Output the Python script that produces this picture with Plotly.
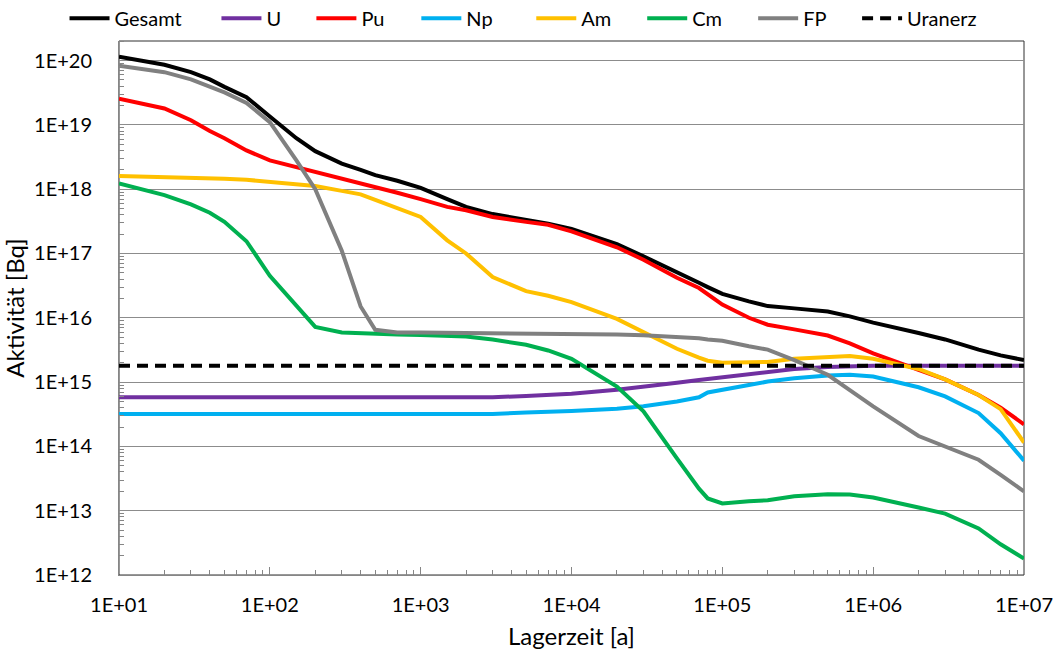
import plotly.graph_objects as go

# Lagerzeit [a]
years = [10, 20, 30, 40, 50, 70, 100, 150, 200, 300, 400, 500, 700,
         1e3, 1.5e3, 2e3, 3e3, 5e3, 7e3, 1e4, 2e4, 3e4, 5e4, 7e4, 8e4,
         1e5, 1.5e5, 2e5, 3e5, 5e5, 7e5, 1e6, 2e6, 3e6, 5e6, 7e6, 1e7]

gesamt = [1.15e20, 8.6e19, 6.6e19, 5.1e19, 3.9e19, 2.7e19, 1.35e19, 6.2e18, 3.9e18, 2.5e18, 2.0e18, 1.65e18, 1.35e18,
          1.05e18, 7.0e17, 5.3e17, 4.1e17, 3.3e17, 2.9e17, 2.4e17, 1.4e17, 9.0e16, 5.2e16, 3.5e16, 3.0e16,
          2.35e16, 1.8e16, 1.52e16, 1.4e16, 1.25e16, 1.05e16, 8.4e15, 5.8e15, 4.6e15, 3.2e15, 2.6e15, 2.2e15]

uran = [5.8e14, 5.8e14, 5.8e14, 5.8e14, 5.8e14, 5.8e14, 5.8e14, 5.8e14, 5.8e14, 5.8e14, 5.8e14, 5.8e14, 5.8e14,
        5.8e14, 5.8e14, 5.8e14, 5.8e14, 6.1e14, 6.3e14, 6.6e14, 7.6e14, 8.4e14, 9.8e14, 1.08e15, 1.12e15,
        1.2e15, 1.35e15, 1.45e15, 1.6e15, 1.72e15, 1.78e15, 1.79e15, 1.79e15, 1.79e15, 1.79e15, 1.79e15, 1.79e15]

plutonium = [2.55e19, 1.8e19, 1.18e19, 8.0e18, 6.2e18, 4.0e18, 2.8e18, 2.2e18, 1.85e18, 1.45e18, 1.25e18, 1.1e18, 8.8e17,
             7.0e17, 5.3e17, 4.7e17, 3.7e17, 3.1e17, 2.8e17, 2.2e17, 1.25e17, 8.0e16, 4.2e16, 2.9e16, 2.3e16,
             1.6e16, 1.0e16, 7.8e15, 6.6e15, 5.3e15, 4.0e15, 2.8e15, 1.55e15, 1.1e15, 6.3e14, 4.0e14, 2.2e14]

neptunium = [3.2e14, 3.2e14, 3.2e14, 3.2e14, 3.2e14, 3.2e14, 3.2e14, 3.2e14, 3.2e14, 3.2e14, 3.2e14, 3.2e14, 3.2e14,
             3.2e14, 3.2e14, 3.2e14, 3.2e14, 3.35e14, 3.4e14, 3.55e14, 3.85e14, 4.2e14, 5.0e14, 5.8e14, 6.9e14,
             7.5e14, 9.0e14, 1.02e15, 1.15e15, 1.27e15, 1.3e15, 1.22e15, 8.3e14, 6.0e14, 3.3e14, 1.6e14, 6.0e13]

americium = [1.6e18, 1.55e18, 1.52e18, 1.5e18, 1.45e18, 1.4e18, 1.3e18, 1.2e18, 1.12e18, 9.4e17, 8.3e17, 6.8e17, 5.0e17,
             3.7e17, 1.6e17, 1.0e17, 4.3e16, 2.6e16, 2.2e16, 1.75e16, 9.6e15, 6.0e15, 3.3e15, 2.4e15, 2.15e15,
             2.0e15, 2.0e15, 2.05e15, 2.3e15, 2.5e15, 2.55e15, 2.3e15, 1.6e15, 1.1e15, 6.3e14, 3.8e14, 1.15e14]

curium = [1.23e18, 8.1e17, 5.8e17, 4.3e17, 3.1e17, 1.55e17, 4.5e16, 1.5e16, 7.2e15, 5.9e15, 5.7e15, 5.6e15, 5.5e15,
          5.4e15, 5.2e15, 5.1e15, 4.6e15, 3.8e15, 3.1e15, 2.3e15, 8.5e14, 3.5e14, 6.5e13, 2.2e13, 1.55e13,
          1.3e13, 1.4e13, 1.45e13, 1.68e13, 1.8e13, 1.78e13, 1.6e13, 1.12e13, 9.0e12, 5.3e12, 3.0e12, 1.8e12]

spaltprodukte = [8.3e19, 6.6e19, 5.1e19, 4.0e19, 3.2e19, 2.2e19, 1.1e19, 2.8e18, 1.0e18, 1.1e17, 1.5e16, 6.5e15, 5.9e15,
                 5.9e15, 5.85e15, 5.8e15, 5.8e15, 5.75e15, 5.75e15, 5.7e15, 5.5e15, 5.35e15, 5.1e15, 4.8e15, 4.6e15,
                 4.4e15, 3.6e15, 3.2e15, 2.2e15, 1.3e15, 7.5e14, 4.2e14, 1.45e14, 1.0e14, 6.2e13, 3.6e13, 2.0e13]

uranerz_value = 1.8e15
uranerz = [uranerz_value for _ in years]

series_names = ["Gesamt", "U", "Pu", "Np", "Am", "Cm", "FP", "Uranerz"]
series_values = [gesamt, uran, plutonium, neptunium, americium, curium, spaltprodukte, uranerz]
series_colors = ["#000000", "#7030A0", "#FF0000", "#00B0F0", "#FFC000", "#00B050", "#808080", "#000000"]
series_dash = ["solid"] * 7 + ["11px,7px"]

x_ticks = [1e1, 1e2, 1e3, 1e4, 1e5, 1e6, 1e7]
x_ticktext = ["1E+01", "1E+02", "1E+03", "1E+04", "1E+05", "1E+06", "1E+07"]
y_ticks = [1e12, 1e13, 1e14, 1e15, 1e16, 1e17, 1e18, 1e19, 1e20]
y_ticktext = ["1E+12", "1E+13", "1E+14", "1E+15", "1E+16", "1E+17", "1E+18", "1E+19", "1E+20"]

# legend text start positions (pixels) as in the reference
legend_text_px = [114, 266, 361, 466, 581, 692, 803, 907]

W, H = 1055, 652
L, R, T, B = 118.5, 1024, 40.7, 575.3
FONT = "Lato"
ITEMW = 40

fig = go.Figure()
for i, (name, vals, col, dash) in enumerate(zip(series_names, series_values, series_colors, series_dash)):
    fig.add_trace(go.Scatter(
        x=years, y=vals, name=name, mode="lines",
        line=dict(color=col, width=4, dash=dash),
        legend="legend" if i == 0 else f"legend{i+1}",
        hoverinfo="skip",
    ))

legend_y = (B - 18) / (B - T)
for i, tx in enumerate(legend_text_px):
    key = "legend" if i == 0 else f"legend{i+1}"
    fig.layout[key] = dict(
        x=(tx - (ITEMW + 10) - L) / (R - L), y=legend_y, xanchor="left", yanchor="middle",
        orientation="h", bgcolor="rgba(0,0,0,0)", borderwidth=0, itemwidth=ITEMW,
        font=dict(family=FONT, size=20, color="#000000"),
    )

minor_x = [m * 10.0 ** e for e in range(1, 7) for m in range(2, 10)]
minor_y = [m * 10.0 ** e for e in range(12, 20) for m in range(2, 10)] + [2e20]

fig.update_layout(
    width=W, height=H,
    margin=dict(l=L, r=W - R, t=T, b=H - B, pad=0, autoexpand=False),
    paper_bgcolor="white", plot_bgcolor="white",
    font=dict(family=FONT, size=20, color="#000000"),
    showlegend=True,
    xaxis=dict(
        type="log", range=[1, 7], tickvals=x_ticks, ticktext=x_ticktext,
        showgrid=False, zeroline=False,
        showline=True, linecolor="#868686", linewidth=1,
        ticks="inside", ticklen=8, tickcolor="#868686", tickwidth=1,
        ticklabelstandoff=12,
        minor=dict(tickvals=minor_x, ticks="inside", ticklen=5, tickcolor="#868686", showgrid=False),
        title=dict(text="Lagerzeit [a]", font=dict(family=FONT, size=24), standoff=13),
        tickfont=dict(family=FONT, size=20),
    ),
    yaxis=dict(
        type="log", range=[12, 20.304], tickvals=y_ticks, ticktext=y_ticktext,
        showgrid=True, gridcolor="#8c8c8c", gridwidth=1, zeroline=False,
        showline=True, linecolor="#868686", linewidth=1,
        ticks="", ticklabelstandoff=22,
        minor=dict(tickvals=minor_y, ticks="inside", ticklen=5, tickcolor="#868686", showgrid=False),
        title=dict(text="Aktivität [Bq]", font=dict(family=FONT, size=24), standoff=8),
        tickfont=dict(family=FONT, size=20),
    ),
    shapes=[dict(type="rect", xref="paper", yref="paper", x0=0, y0=0, x1=1, y1=1,
                 line=dict(color="#303030", width=1), layer="below")],
)

fig.write_html("out.html")
